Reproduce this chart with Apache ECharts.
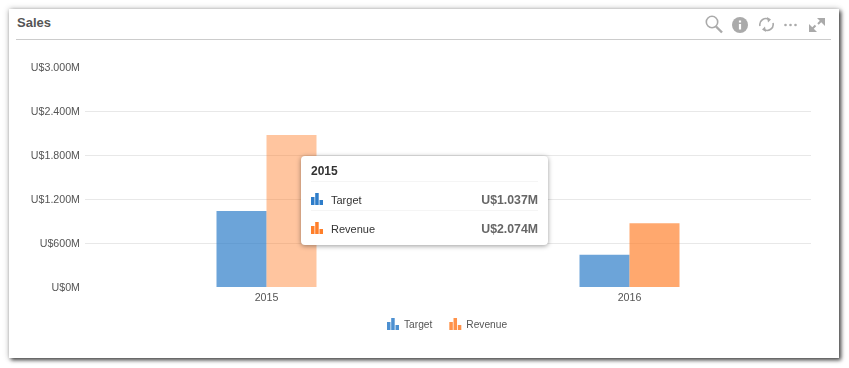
<!DOCTYPE html>
<html>
<head>
<meta charset="utf-8">
<title>Sales</title>
<script src="https://cdn.jsdelivr.net/npm/echarts@6/dist/echarts.min.js"></script>
<style>
html,body{margin:0;padding:0;width:849px;height:368px;background:#fff;overflow:hidden;font-family:"Liberation Sans",Arial,sans-serif;}
.card{position:absolute;left:9px;top:9px;width:830px;height:349px;background:#fff;box-shadow:2px 2px 4px #444,0 0 6px rgba(0,0,0,.25);}
.card-head{position:absolute;left:16px;top:9px;width:815px;height:30px;border-bottom:1px solid #ccc;}
.card-title{position:absolute;left:1px;top:6px;font-size:13px;line-height:16px;font-weight:bold;color:#555;}
.card-icons{position:absolute;left:688px;top:6px;}
#main{position:absolute;left:0;top:0;width:849px;height:368px;}
.tip{width:227px;color:#333;font-size:11px;line-height:14px;}
.tip-title{font-size:12px;font-weight:bold;height:25px;line-height:31px;border-bottom:1px solid #f5f5f5;}
.tip-row{height:28px;line-height:36px;position:relative;padding-left:20px;border-bottom:1px solid #f5f5f5;}
.tip-row:last-child{border-bottom:0;}
.tip-row svg{position:absolute;left:0;top:11px;}
.tip-row b{position:absolute;right:0;top:0;font-size:12.3px;color:#666;}
</style>
</head>
<body>
<div class="card"></div>
<div class="card-head">
    <div class="card-title">Sales</div>
    <svg class="card-icons" width="125" height="20" viewBox="0 0 125 20" fill="none" stroke="#aaa">
        <circle cx="8" cy="7" r="5.7" stroke-width="1.6"/>
        <path d="M12 11.5L18 17.5" stroke-width="2.4"/>
        <circle cx="36" cy="10" r="8" fill="#aaa" stroke="none"/>
        <path d="M36 9v5.5M36 5.5v2" stroke="#fff" stroke-width="2.2"/>
        <path d="M56 11a6 6 0 0 1 9-6.5M69 8a6 6 0 0 1-9 6.5" stroke-width="1.6"/>
        <path d="M63 2l4 2.5-3 3zM62 17l-4-2.5 3-3z" fill="#aaa" stroke="none"/>
        <circle cx="81.5" cy="10" r="1.3" fill="#aaa" stroke="none"/>
        <circle cx="86.5" cy="10" r="1.3" fill="#aaa" stroke="none"/>
        <circle cx="91.5" cy="10" r="1.3" fill="#aaa" stroke="none"/>
        <path d="M108 14l3.5-3.5M114 9l3-3" stroke-width="2"/>
        <path d="M113 3h8v8zM113 17h-8v-8z" fill="#aaa" stroke="none"/>
    </svg>
</div>
<div id="main"></div>
<script>
var categories = ['2015','2016'];
var targetValues = [1.037,0.44];
var revenueValues = [2.074,0.87];
var yTickLabels = ['U$0M','U$600M','U$1.200M','U$1.800M','U$2.400M','U$3.000M'];
var tipValues = {'Target':'U$1.037M','Revenue':'U$2.074M'};

var BLUE = '#2e7dc9';
var ORANGE = '#ff7f2a';
var BAR_PATH = 'M0 4h3.5v8H0zM4.2 0h3.5v12H4.2zM8.5 7h3.5v5H8.5z';

function tipIcon(color){
    return '<svg width="12" height="12" viewBox="0 0 12 12"><path fill="'+color+'" d="'+BAR_PATH+'"/></svg>';
}

var myChart = echarts.init(document.getElementById('main'),null,{renderer:'canvas'});
var option = {
    animation:false,
    textStyle:{fontFamily:'"Liberation Sans",Arial,sans-serif'},
    grid:{left:85,right:38,top:67,bottom:81},
    tooltip:{
        trigger:'axis',
        alwaysShowContent:true,
        showContent:true,
        transitionDuration:0,
        axisPointer:{type:'none'},
        backgroundColor:'#fff',
        borderWidth:0,
        padding:[0,10,6,10],
        extraCssText:'border-radius:4px;box-shadow:0 1px 5px rgba(0,0,0,.4);',
        position:function(){ return [301,156]; },
        formatter:function(params){
            var str = '<div class="tip"><div class="tip-title">'+params[0].axisValue+'</div>';
            for(var i=0;i<params.length;i++){
                str += '<div class="tip-row">'+tipIcon(i==0?BLUE:ORANGE)+params[i].seriesName+'<b>'+tipValues[params[i].seriesName]+'</b></div>';
            }
            return str+'</div>';
        }
    },
    legend:{
        left:382,
        top:313,
        itemWidth:12,
        itemHeight:12,
        itemGap:17,
        icon:'path://'+BAR_PATH,
        itemStyle:{opacity:0.85},
        formatter:function(name){ return '{t|'+name+'}'; },
        textStyle:{
            color:'#555',
            fontSize:10.2,
            rich:{t:{color:'#555',fontSize:10.2,padding:[3,0,0,0]}}
        },
        data:['Target','Revenue']
    },
    xAxis:{
        type:'category',
        data:categories,
        axisLine:{show:false},
        axisTick:{show:false},
        axisLabel:{color:'#555',fontSize:10.67,margin:6}
    },
    yAxis:{
        type:'value',
        min:0,
        max:3,
        interval:0.6,
        axisLine:{show:false},
        axisTick:{show:false},
        axisLabel:{
            color:'#555',
            fontSize:10.67,
            margin:5,
            formatter:function(v,i){ return '{t|'+yTickLabels[i]+'}'; },
            rich:{t:{color:'#555',fontSize:10.67,padding:[2,0,0,0]}}
        },
        splitLine:{show:true,showMinLine:false,showMaxLine:false,lineStyle:{color:'#e8e8e8',width:1}}
    },
    series:[
        {
            name:'Target',
            type:'bar',
            barWidth:50,
            barGap:0,
            data:targetValues,
            itemStyle:{color:BLUE,opacity:0.7},
            emphasis:{disabled:true}
        },
        {
            name:'Revenue',
            type:'bar',
            barWidth:50,
            data:[
                {value:revenueValues[0],itemStyle:{opacity:0.45}},
                revenueValues[1]
            ],
            itemStyle:{color:ORANGE,opacity:0.68},
            emphasis:{disabled:true}
        }
    ]
};
myChart.setOption(option);
myChart.dispatchAction({type:'showTip',seriesIndex:0,dataIndex:0});
</script>
</body>
</html>
